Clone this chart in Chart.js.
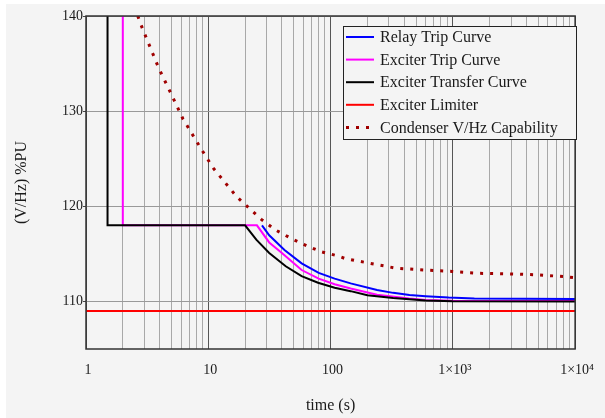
<!DOCTYPE html>
<html>
<head>
<meta charset="utf-8">
<script src="https://cdn.jsdelivr.net/npm/chart.js@4.4.1/dist/chart.umd.min.js"></script>
<style>
  html, body { margin: 0; padding: 0; background: #fff; }
  #wrap { position: absolute; left: 6px; top: 4px; width: 599px; height: 414px; }
</style>
</head>
<body>
<div id="wrap"><canvas id="myChart" width="599" height="414"></canvas></div>
<script>
// data (time in s, V/Hz in %PU)
var relayT = [27.5, 31.5, 42, 58, 80, 108, 146, 240, 325, 442, 600, 924, 1500, 10000];
var relayV = [118, 116.95, 115.4, 114.0, 113.0, 112.4, 111.9, 111.2, 110.9, 110.67, 110.55, 110.4, 110.3, 110.25];

var exciterTripT = [2, 2, 25, 31.5, 40, 58, 80, 108, 146, 240, 440, 600, 1000, 10000];
var exciterTripV = [145, 118, 118, 116.2, 115.1, 113.3, 112.4, 111.8, 111.35, 110.7, 110.3, 110.15, 110.07, 110.05];

var transferT = [1.5, 1.5, 20, 24.7, 31.5, 43, 58, 79, 108, 146, 200, 325, 600, 1000, 10000];
var transferV = [145, 118, 118, 116.5, 115.1, 113.7, 112.66, 111.97, 111.44, 111.08, 110.65, 110.35, 110.1, 110.02, 110];

var limiterT = [1, 10000];
var limiterV = [109, 109];

var condenserT = [2.65, 2.87, 3.91, 5.15, 6.2, 8.68, 11, 17.1, 27.3, 35.6, 47.9, 65, 85, 114, 132, 211, 342, 580, 985, 1660, 2860, 4900, 8250, 10000];
var condenserV = [140, 138.8, 134.6, 131.4, 129.2, 126.1, 124, 121, 118.6, 117.5, 116.6, 115.8, 115.2, 114.8, 114.5, 114.0, 113.5, 113.3, 113.15, 112.95, 112.9, 112.8, 112.6, 112.5];

var seriesNames = ["Relay Trip Curve", "Exciter Trip Curve", "Exciter Transfer Curve", "Exciter Limiter", "Condenser V/Hz Capability"];
var seriesColors = ["#0000ff", "#ff00ff", "#000000", "#ff0000", "#a00000"];
// which curve sits on top: black over magenta over blue
var drawOrder = [2, 1, 0, 3, 4];

var xGridValues = [1,2,3,4,5,6,7,8,9,10,20,30,40,50,60,70,80,90,100,200,300,400,500,600,700,800,900,1000,2000,3000,4000,5000,6000,7000,8000,9000,10000];
var xTickLabels = {1: "1", 10: "10", 100: "100", 1000: "1\u00d710\u00b3", 10000: "1\u00d710\u2074"};
var yTicks = [110, 120, 130, 140];

function pts(ts, vs) {
  return ts.map(function(t, i) { return {x: t, y: vs[i]}; });
}

Chart.defaults.font.family = "'Liberation Serif', 'Times New Roman', serif";
Chart.defaults.color = "#1a1a1a";

//background, plot frame and boxed legend
var frame = {
  id: 'frame',
  beforeDraw: function(chart) {
    var ctx = chart.ctx;
    ctx.save();
    ctx.fillStyle = '#f4f4f4';
    ctx.fillRect(0, 0, chart.width, chart.height);
    ctx.restore();
  },
  afterDatasetsDraw: function(chart) {
    var ctx = chart.ctx, a = chart.chartArea;
    ctx.save();
    ctx.strokeStyle = '#333';
    ctx.lineWidth = 1.5;
    ctx.strokeRect(a.left, a.top, a.right - a.left, a.bottom - a.top);

    // legend
    var lx = 337, ly = 22, lw = 233, lh = 113;
    ctx.fillStyle = '#f4f4f4';
    ctx.fillRect(lx, ly, lw, lh);
    ctx.strokeStyle = '#222';
    ctx.lineWidth = 1;
    ctx.strokeRect(lx + 0.5, ly + 0.5, lw, lh);
    ctx.font = "16px 'Liberation Serif', serif";
    ctx.textBaseline = 'middle';
    ctx.textAlign = 'left';
    chart.data.datasets.forEach(function(ds, i) {
      var y = ly + 11 + i * 22.6;
      ctx.beginPath();
      ctx.strokeStyle = ds.borderColor;
      ctx.lineWidth = ds.borderWidth;
      ctx.setLineDash(ds.borderDash || []);
      ctx.moveTo(340, y);
      ctx.lineTo(368, y);
      ctx.stroke();
      ctx.setLineDash([]);
      ctx.fillStyle = '#1a1a1a';
      ctx.fillText(ds.label, 374, y + 1);
    });
    ctx.restore();
  }
};

var lineSets = [
  pts(relayT, relayV),
  pts(exciterTripT, exciterTripV),
  pts(transferT, transferV),
  pts(limiterT, limiterV),
  pts(condenserT, condenserV)
];

var data = {
  datasets: lineSets.map(function(d, i) {
    var ds = {
      label: seriesNames[i],
      data: d,
      order: drawOrder[i],
      borderColor: seriesColors[i],
      backgroundColor: seriesColors[i],
      borderWidth: 2,
      pointRadius: 0,
      tension: 0,
      showLine: true,
      fill: false
    };
    if (i == 4) {
      ds.borderWidth = 3;
      ds.borderDash = [3, 7];
      ds.borderCapStyle = 'butt';
    }
    return ds;
  })
};

var config = {
  type: 'scatter',
  data: data,
  options: {
    responsive: false,
    animation: false,
    layout: { padding: { left: 0, top: 12, right: 19, bottom: 0 } },
    plugins: {
      legend: { display: false },
      tooltip: { enabled: false }
    },
    scales: {
      x: {
        type: 'logarithmic',
        position: 'bottom',
        min: 1,
        max: 10000,
        afterBuildTicks: function(s) {
          s.ticks = xGridValues.map(function(v) { return {value: v}; });
        },
        afterFit: function(s) { s.height = 69; },
        border: { display: false },
        grid: {
          drawTicks: false,
          lineWidth: 1,
          color: function(c) {
            return xTickLabels[c.tick.value] ? '#555' : '#a8a8a8';
          }
        },
        ticks: {
          autoSkip: false,
          maxRotation: 0,
          minRotation: 0,
          padding: 13,
          labelOffset: 2,
          font: { size: 14 },
          callback: function(v) { return xTickLabels[v] || ''; }
        },
        title: {
          display: true,
          text: 'time (s)',
          font: { size: 16 },
          padding: { top: 0, bottom: 3 }
        }
      },
      y: {
        type: 'linear',
        min: 105,
        max: 140,
        afterBuildTicks: function(s) {
          s.ticks = yTicks.map(function(v) { return {value: v}; });
        },
        afterFit: function(s) { s.width = 80; },
        border: { display: false },
        grid: {
          color: '#999',
          tickColor: '#444',
          tickLength: 3,
          lineWidth: 1
        },
        ticks: {
          padding: 0,
          font: { size: 14 }
        },
        title: {
          display: true,
          text: '(V/Hz) %PU',
          font: { size: 16 },
          padding: { top: 6, bottom: 0 }
        }
      }
    }
  },
  plugins: [frame]
};

var myChart = new Chart(document.getElementById('myChart'), config);
</script>
</body>
</html>
